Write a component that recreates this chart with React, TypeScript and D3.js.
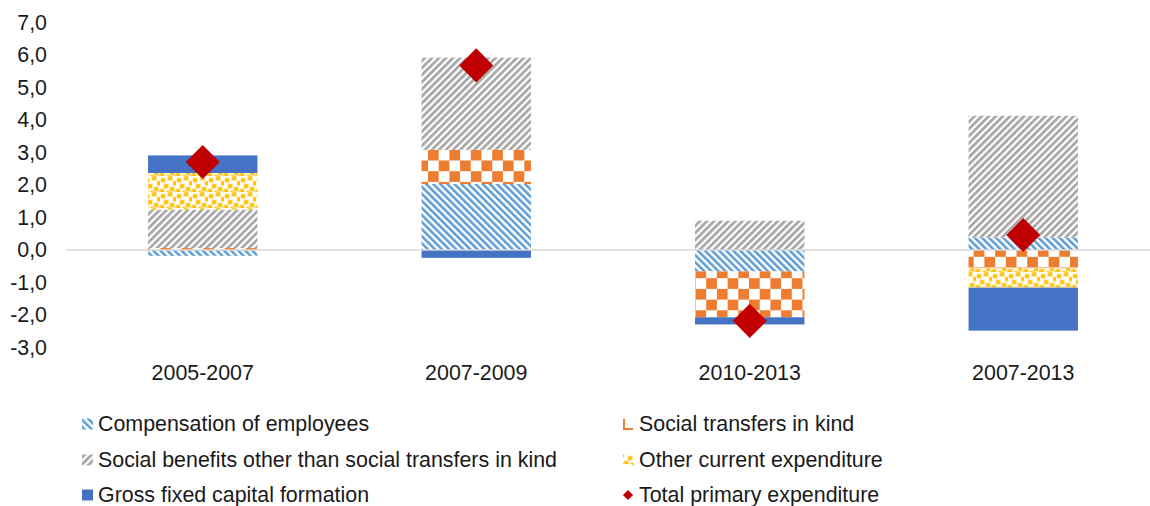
import * as d3 from "d3";

const categories = ["2005-2007", "2007-2009", "2010-2013", "2007-2013"];
const compensation = [-0.18, 2.03, -0.66, 0.38];
const socialTransfers = [0.06, 1.05, -1.41, -0.56];
const socialBenefits = [1.18, 2.84, 0.9, 3.75];
const otherCurrent = [1.13, 0, 0, -0.6];
const gfcf = [0.54, -0.24, -0.22, -1.32];
const totalPrimary = [2.71, 5.68, -2.18, 0.46];
const yTicks = [-3, -2, -1, 0, 1, 2, 3, 4, 5, 6, 7];

const seriesKeys = ["comp", "transfers", "benefits", "other", "gfcf"];
const seriesNames: Record<string, string> = {
  comp: "Compensation of employees",
  transfers: "Social transfers in kind",
  benefits: "Social benefits other than social transfers in kind",
  other: "Other current expenditure",
  gfcf: "Gross fixed capital formation",
};
const fills: Record<string, string> = {
  comp: "url(#pat-comp)",
  transfers: "url(#pat-checker)",
  benefits: "url(#pat-grey)",
  other: "url(#pat-confetti)",
  gfcf: "#4472C4",
};

const W = 1150;
const H = 506;
const FONT = "'Liberation Sans', Arial, sans-serif";
const FS = 21.4;

// confetti dots inside one tile (style only)
const confettiDots = [
  [1, 2], [8, 0], [13, 5], [4, 8], [10, 11], [0, 13], [15, 14], [6, 15],
];

export default function App() {
  const table = categories.map((c, i) => ({
    cat: c,
    comp: compensation[i],
    transfers: socialTransfers[i],
    benefits: socialBenefits[i],
    other: otherCurrent[i],
    gfcf: gfcf[i],
  }));

  const stack = d3
    .stack<any>()
    .keys(seriesKeys)
    .offset(d3.stackOffsetDiverging);
  const layers = stack(table);

  const x = d3
    .scaleBand<string>()
    .domain(categories)
    .range([66, 1160])
    .paddingInner(0.6)
    .paddingOuter(0.3);

  const y = d3.scaleLinear().domain([-3, 7]).range([347.5, 22.5]);

  const diamond = d3.symbol().type(d3.symbolSquare).size(580)();
  const smallDiamond = d3.symbol().type(d3.symbolSquare).size(52)();

  const legendRows = [
    { key: "comp", x: 82, y: 424 },
    { key: "transfers", x: 623, y: 424 },
    { key: "benefits", x: 82, y: 460 },
    { key: "other", x: 623, y: 460 },
    { key: "gfcf", x: 82, y: 495 },
    { key: "total", x: 623, y: 495 },
  ];

  return (
    <svg
      width={W}
      height={H}
      style={{ position: "absolute", left: 0, top: 0, background: "#fff" }}
      fontFamily={FONT}
    >
      <defs>
        <pattern
          id="pat-comp"
          width={5}
          height={5}
          patternUnits="userSpaceOnUse"
          patternTransform="rotate(-45)"
        >
          <rect width={5} height={5} fill="#fff" />
          <rect width={2.5} height={5} fill="#5B9BD5" />
        </pattern>
        <pattern
          id="pat-grey"
          width={5}
          height={5}
          patternUnits="userSpaceOnUse"
          patternTransform="rotate(45)"
        >
          <rect width={5} height={5} fill="#fff" />
          <rect width={2.7} height={5} fill="#A5A5A5" />
        </pattern>
        <pattern
          id="pat-checker"
          width={21.4}
          height={21.4}
          patternUnits="userSpaceOnUse"
        >
          <rect width={21.4} height={21.4} fill="#fff" />
          <rect width={10.7} height={10.7} fill="#ED7D31" />
          <rect x={10.7} y={10.7} width={10.7} height={10.7} fill="#ED7D31" />
        </pattern>
        <pattern
          id="pat-confetti"
          width={16}
          height={16}
          patternUnits="userSpaceOnUse"
        >
          <rect width={16} height={16} fill="#fff" />
          {confettiDots.map(([cx, cy], i) => (
            <rect
              key={i}
              x={cx}
              y={cy}
              width={4.2}
              height={4.2}
              fill="#FFC000"
              stroke="#FFE08A"
              strokeWidth={0.8}
            />
          ))}
        </pattern>
      </defs>

      {/* bars */}
      {layers.map((layer) => (
        <g key={layer.key} fill={fills[layer.key]}>
          {layer.map((d, i) => {
            const h = Math.abs(y(d[0]) - y(d[1]));
            if (h < 0.01) return null;
            return (
              <rect
                key={i}
                x={x(categories[i])}
                y={Math.min(y(d[0]), y(d[1]))}
                width={x.bandwidth()}
                height={h}
              />
            );
          })}
        </g>
      ))}

      {/* zero line */}
      <line x1={66} x2={1150} y1={y(0)} y2={y(0)} stroke="#D9D9D9" strokeWidth={1.5} />

      {/* y tick labels */}
      {yTicks.map((t) => (
        <text
          key={t}
          x={47}
          y={y(t)}
          dy="0.35em"
          textAnchor="end"
          fontSize={FS}
          fill="#1a1a1a"
        >
          {d3.format(".1f")(t).replace(".", ",").replace("−", "-")}
        </text>
      ))}

      {/* x labels */}
      {categories.map((c) => (
        <text
          key={c}
          x={(x(c) ?? 0) + x.bandwidth() / 2}
          y={373}
          dy="0.35em"
          textAnchor="middle"
          fontSize={FS}
          fill="#1a1a1a"
        >
          {c}
        </text>
      ))}

      {/* total markers */}
      {totalPrimary.map((v, i) => (
        <path
          key={i}
          d={diamond ?? ""}
          fill="#C00000"
          transform={`translate(${(x(categories[i]) ?? 0) + x.bandwidth() / 2},${y(v)}) rotate(45)`}
        />
      ))}

      {/* legend */}
      {legendRows.map((r) => {
        let marker;
        if (r.key === "total") {
          marker = (
            <path
              d={smallDiamond ?? ""}
              fill="#C00000"
              transform={`translate(${r.x + 5},${r.y}) rotate(45)`}
            />
          );
        } else if (r.key === "transfers") {
          marker = (
            <path
              d={`M${r.x + 1},${r.y - 5} V${r.y + 5} H${r.x + 10}`}
              fill="none"
              stroke="#ED7D31"
              strokeWidth={2}
            />
          );
        } else {
          marker = (
            <rect
              x={r.x}
              y={r.y - 5.5}
              width={11}
              height={11}
              fill={fills[r.key]}
            />
          );
        }
        return (
          <g key={r.key}>
            {marker}
            <text
              x={r.x + 16}
              y={r.y}
              dy="0.35em"
              fontSize={FS}
              fill="#1a1a1a"
            >
              {r.key === "total" ? "Total primary expenditure" : seriesNames[r.key]}
            </text>
          </g>
        );
      })}
    </svg>
  );
}
